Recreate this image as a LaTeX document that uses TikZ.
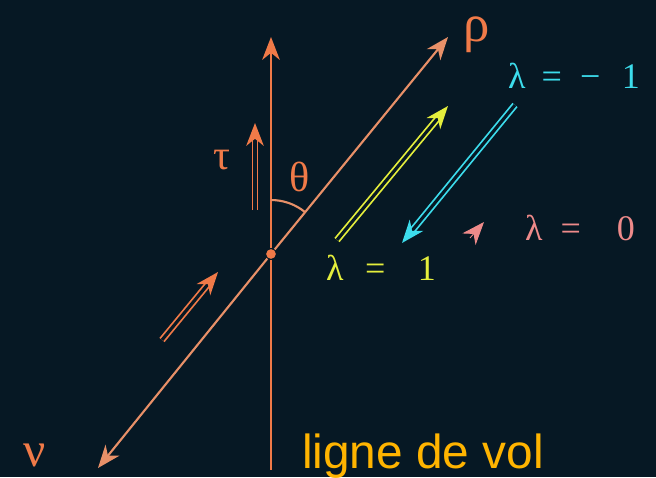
\documentclass[tikz,border=0pt]{standalone}
\usepackage{fontspec}
\setmainfont{Liberation Serif}
\newfontfamily\volfont{Liberation Sans}
\usepackage{xcolor}
\usetikzlibrary{calc, angles, arrows.meta}
\definecolor{fond}{HTML}{061824}
\definecolor{corail}{HTML}{F07A48}
\definecolor{saumon}{HTML}{E89068}
\definecolor{citron}{HTML}{E4EE3C}
\definecolor{turquoise}{HTML}{3CDCEC}
\definecolor{rose}{HTML}{EE8A8A}
\definecolor{ambre}{HTML}{FFB400}

\begin{document}
\begin{tikzpicture}[x=0.02cm, y=-0.02cm, every node/.style={inner sep=0pt}, every path/.style={line width=1.2pt},
	tip/.style={-{Stealth[length=13pt, width=10pt, inset=4pt]}},
	dbl/.style={line width=1pt, double=fond, double distance=1.8pt},
	grec/.style={font=\fontsize{24}{26}\selectfont},
	lam/.style={font=\fontsize{20.5}{22}\selectfont}]
			\fill[fond] (0,0) rectangle (656,477);
			\node[circle, fill=corail, minimum size=5.5pt] (o) at (271,254) {};
			\coordinate (haut) at (271,37);
			\coordinate (bas) at (271,470);
			\coordinate (rho) at (448,37);
			\coordinate (nu) at (98,468);
			\draw[corail, tip] (o) -- (haut);
			\draw[corail] (o) -- (bas);
			\draw[saumon, tip] (o) -- (rho);
			\draw[saumon, tip] (o) -- (nu);
			\pic[draw=saumon, angle radius=1.08cm] {angle = rho--o--haut};
			\coordinate (t1) at (255,210);
			\coordinate (t2) at (255,123);
			\draw[corail, dbl, tip] (t1) -- (t2);
			\coordinate (v1) at (162,340);
			\coordinate (v2) at (218,272);
			\draw[corail, dbl, tip] (v1) -- (v2);
			\coordinate (j1) at (337,240);
			\coordinate (j2) at (448,106);
			\draw[citron, dbl, tip] (j1) -- (j2);
			\coordinate (c1) at (515,105);
			\coordinate (c2) at (402,243);
			\draw[turquoise, dbl, tip] (c1) -- (c2);
			\coordinate (r1) at (470,238);
			\coordinate (r2) at (484,222);
			\draw[rose, line width=0.5pt, tip] (r1) -- (r2);
			\node[corail, font=\fontsize{30}{32}\selectfont] (lrho) at (477,35) {ρ};
			\node[corail, font=\fontsize{28}{30}\selectfont] (lnu) at (35,455) {ν};
			\node[corail, grec] (ltau) at (222,160) {τ};
			\node[corail, grec] (ltheta) at (300,177) {θ};
			\node[turquoise, lam] (lmoins) at (574,76) {λ\hspace{0.45em}=\hspace{0.5em}−\hspace{0.6em}1};
			\node[citron, lam] (lun) at (381,268) {λ\hspace{0.6em}=\hspace{0.9em}1};
			\node[rose, lam] (lzero) at (580,228) {λ\hspace{0.5em}=\hspace{1em}0};
			\node[ambre, anchor=base west, font=\volfont\fontsize{27.2}{30}\selectfont] (vol) at (301,468) {ligne de vol};
		\end{tikzpicture}
\end{document}
